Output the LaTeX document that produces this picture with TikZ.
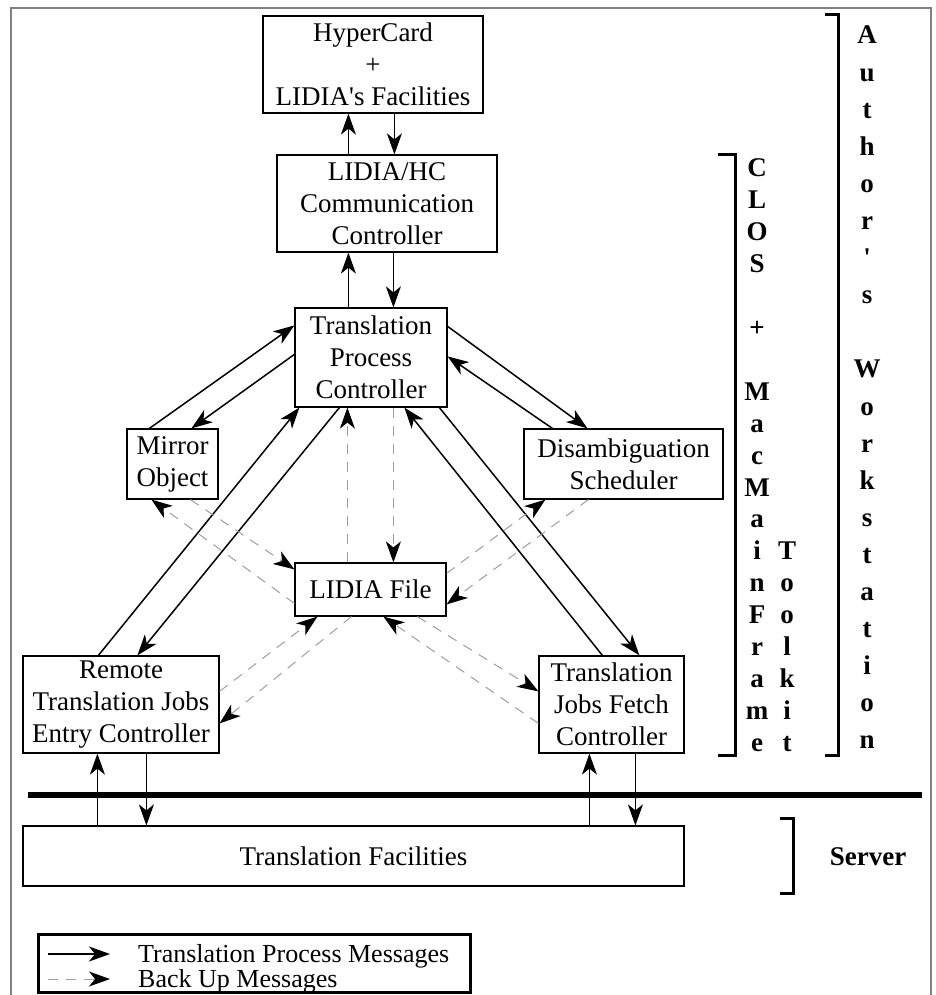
\documentclass[tikz,border=0pt]{standalone}
\usepackage{fontspec}
\setmainfont{Liberation Serif}
\usetikzlibrary{arrows.meta,calc}
\begin{document}
\begin{tikzpicture}[x=1pt,y=-1pt,
  box/.style={draw,line width=1.2pt,inner sep=0pt,align=center,font=\fontsize{27}{32}\selectfont},
  tip/.style={-{Stealth[length=21pt,width=15pt,inset=6pt,black]}},
  sol/.style={line width=1.5pt,tip},
  bup/.style={line width=1pt,black!38,dash pattern=on 10pt off 8pt,tip},
  col/.style={font=\fontsize{27}{32}\selectfont\bfseries,anchor=base,inner sep=0pt},
  brk/.style={line width=3pt},
  frm/.style={line width=1.5pt,black!50},
  lbl/.style={font=\fontsize{26}{30}\selectfont,anchor=base west,inner sep=0pt}
]
\useasboundingbox (0,0) rectangle (936,995);
% frame
\draw[frm] (11,995) -- (11,8) -- (931,8) -- (931,995);

% boxes
\node[box,minimum width=220pt,minimum height=97pt] (hc) at (373,64.5) {HyperCard\\+\\LIDIA\textquotesingle s Facilities};
\node[box,minimum width=220pt,minimum height=97pt] (lhc) at (387,203.5) {LIDIA/HC\\Communication\\Controller};
\node[box,minimum width=152pt,minimum height=99pt] (tpc) at (371,357.5) {Translation\\Process\\Controller};
\node[box,minimum width=91pt,minimum height=70pt] (mir) at (172.5,464) {Mirror\\Object};
\node[box,minimum width=199pt,minimum height=70pt] (dis) at (623.5,464) {Disambiguation\\Scheduler};
\node[box,minimum width=151pt,minimum height=53pt] (lf) at (370.5,589.5) {LIDIA File};
\node[box,minimum width=196pt,minimum height=97pt] (rem) at (121,704.5) {Remote\\Translation Jobs\\Entry Controller};
\node[box,minimum width=145pt,minimum height=97pt] (fet) at (611.5,704.5) {Translation\\Jobs Fetch\\Controller};
\node[box,minimum width=661pt,minimum height=60pt] (tf) at (353.5,856) {Translation Facilities};

% HC <-> LIDIA/HC
\draw[sol] ($(lhc.north west)+(72,0)$) -- ($(hc.south west)+(86,0)$);
\draw[sol] ($(hc.south west)+(132,0)$) -- ($(lhc.north west)+(118,0)$);
% LIDIA/HC <-> TPC
\draw[sol] ($(tpc.north west)+(54,0)$) -- ($(lhc.south west)+(72,0)$);
\draw[sol] ($(lhc.south west)+(117,0)$) -- ($(tpc.north west)+(99,0)$);
% Mirror <-> TPC
\draw[sol] ($(mir.north west)+(23,0)$) -- ($(tpc.north west)+(0,18)$);
\draw[sol] ($(tpc.north west)+(0,47)$) -- ($(mir.north west)+(65,0)$);
% TPC <-> Disambiguation
\draw[sol] ($(tpc.north east)+(0,19)$) -- ($(dis.north west)+(64,0)$);
\draw[sol] ($(dis.north west)+(29,0)$) -- ($(tpc.north east)+(0,49)$);
% Remote <-> TPC
\draw[sol] ($(rem.north west)+(76,0)$) -- ($(tpc.south west)+(5,0)$);
\draw[sol] ($(tpc.south west)+(45,0)$) -- ($(rem.north west)+(115,0)$);
% Fetch <-> TPC
\draw[sol] ($(fet.north west)+(64,0)$) -- ($(tpc.south west)+(110,0)$);
\draw[sol] ($(tpc.south west)+(145,0)$) -- ($(fet.north west)+(101,0)$);
% Remote/Fetch <-> Translation Facilities
\draw[sol] ($(tf.north west)+(75,0)$) -- ($(rem.south west)+(75,0)$);
\draw[sol] ($(rem.south west)+(124,0)$) -- ($(tf.north west)+(124,0)$);
\draw[sol] ($(tf.north west)+(567,0)$) -- ($(fet.south west)+(51,0)$);
\draw[sol] ($(fet.south west)+(97,0)$) -- ($(tf.north west)+(613,0)$);

% back up messages
\draw[bup] ($(lf.north west)+(53,0)$) -- ($(tpc.south west)+(53,0)$);
\draw[bup] ($(tpc.south west)+(99,0)$) -- ($(lf.north west)+(99,0)$);
\draw[bup] ($(mir.south west)+(64,0)$) -- ($(lf.north west)+(0,7)$);
\draw[bup] ($(lf.north west)+(0,41)$) -- ($(mir.south west)+(25,0)$);
\draw[bup] ($(lf.north east)+(0,11)$) -- ($(dis.south west)+(22,0)$);
\draw[bup] ($(dis.south west)+(65,0)$) -- ($(lf.north east)+(0,42)$);
\draw[bup] ($(rem.north east)+(0,36)$) -- ($(lf.south west)+(23,0)$);
\draw[bup] ($(lf.south west)+(57,0)$) -- ($(rem.north east)+(0,68)$);
\draw[bup] ($(fet.north west)+(0,68)$) -- ($(lf.south west)+(89,0)$);
\draw[bup] ($(lf.south west)+(123,0)$) -- ($(fet.north west)+(0,36)$);

% separator
\draw[line width=6pt] (28,795) -- (922,795);

% brackets
\draw[brk] (825,15) -- (838,15) -- (838,755) -- (825,755);
\draw[brk] (718,155) -- (735,155) -- (735,755) -- (718,755);
\draw[brk] (780,818) -- (793,818) -- (793,893) -- (780,893);

% vertical labels
\foreach \l/\i in {C/0,L/1,O/2,S/3,+/5,M/7,a/8,c/9,M/10,a/11,i/12,n/13,F/14,r/15,a/16,m/17,e/18}
  \node[col] (cl\i) at (757,177+31.9*\i) {\l};
\foreach \l/\i in {T/12,o/13,o/14,l/15,k/16,i/17,t/18}
  \node[col] (tk\i) at (787,177+31.9*\i) {\l};
\foreach \l/\i in {A/0,u/1,t/2,h/3,o/4,r/5,\textquotesingle/6,s/7,W/9,o/10,r/11,k/12,s/13,t/14,a/15,t/16,i/17,o/18,n/19}
  \node[col] (aw\i) at (867,44+37.1*\i) {\l};
\node[col,anchor=center] (srv) at (868,857) {Server};

% legend
\node[draw,line width=3pt,minimum width=432pt,minimum height=58pt,inner sep=0pt] (leg) at (254,963) {};
\coordinate (l1a) at (48,954);
\coordinate (l1b) at (110,954);
\coordinate (l2a) at (48,979);
\coordinate (l2b) at (110,979);
\draw[sol] (l1a) -- (l1b);
\draw[bup] (l2a) -- (l2b);
\node[lbl] (lt1) at (138,962) {Translation Process Messages};
\node[lbl] (lt2) at (138,987) {Back Up Messages};
\end{tikzpicture}
\end{document}
